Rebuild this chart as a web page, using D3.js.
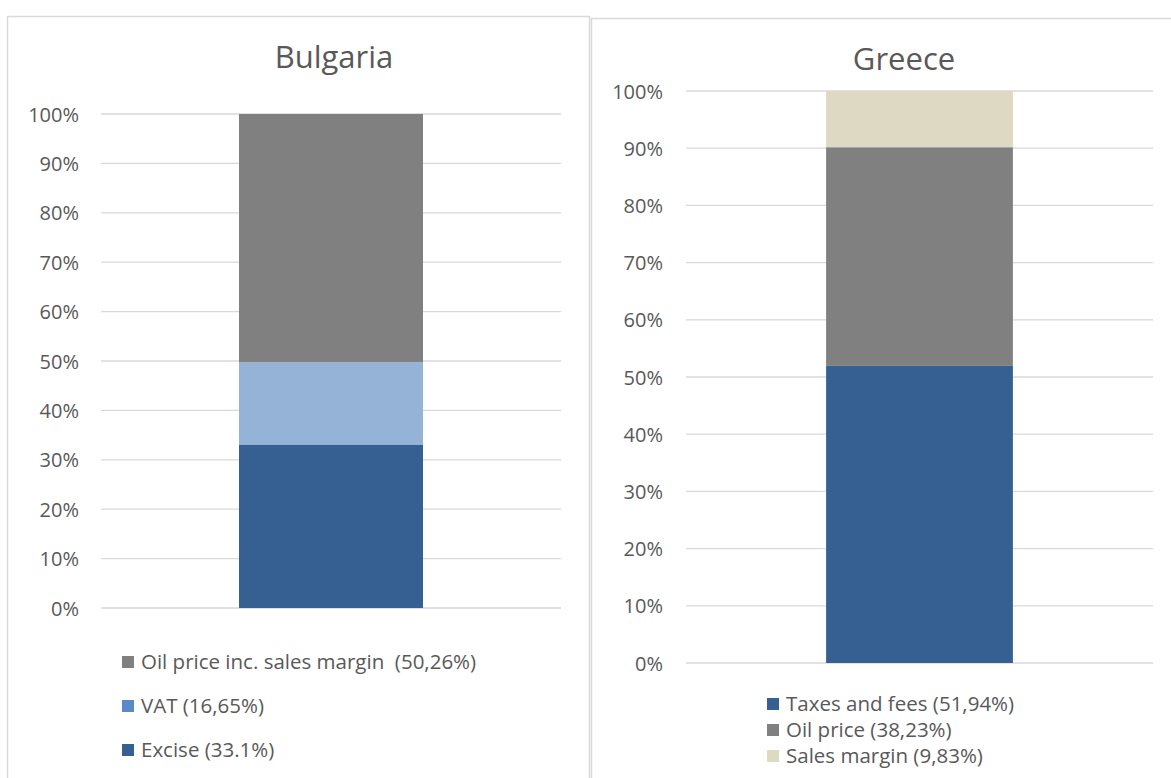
<!DOCTYPE html>
<html>
<head>
<meta charset="utf-8">
<script src="https://cdn.jsdelivr.net/npm/d3@7"></script>
<style>
  html, body { margin: 0; padding: 0; background: #fff; }
  svg { display: block; }
  text { font-family: "Open Sans", "Noto Sans", sans-serif; fill: #595959; }
</style>
</head>
<body>
<svg id="chart" width="1171" height="778"></svg>
<script>
// Bulgaria: fuel price breakdown (stack order bottom → top)
const bgCategories = ["Excise", "VAT", "Oil price inc. sales margin"];
const bgValues = [33.1, 16.65, 50.26];
const bgLegendLabels = ["Oil price inc. sales margin  (50,26%)", "VAT (16,65%)", "Excise (33.1%)"];

// Greece: fuel price breakdown (stack order bottom → top)
const grCategories = ["Taxes and fees", "Oil price", "Sales margin"];
const grValues = [51.94, 38.23, 9.83];
const grLegendLabels = ["Taxes and fees (51,94%)", "Oil price (38,23%)", "Sales margin (9,83%)"];

const yTicks = [0, 10, 20, 30, 40, 50, 60, 70, 80, 90, 100];

const svg = d3.select("#chart");

function drawPanel(cfg) {
  const g = svg.append("g");

  // chart frame
  g.append("rect")
    .attr("x", cfg.frame.x).attr("y", cfg.frame.y)
    .attr("width", cfg.frame.w).attr("height", cfg.frame.h)
    .attr("fill", "#fff").attr("stroke", "#d9d9d9").attr("stroke-width", 1.5);

  // title
  g.append("text")
    .attr("x", cfg.titleX).attr("y", cfg.titleY)
    .attr("text-anchor", "middle")
    .style("font-size", "31px")
    .text(cfg.title);

  const y = d3.scaleLinear().domain([0, 100]).range([cfg.plot.bottom, cfg.plot.top]);
  const x = d3.scaleBand().domain(["bar"]).range([cfg.plot.left, cfg.plot.right])
    .paddingInner(0).paddingOuter(cfg.barPad);

  // gridlines
  g.append("g").selectAll("line").data(yTicks).join("line")
    .attr("x1", cfg.plot.left).attr("x2", cfg.plot.right)
    .attr("y1", d => y(d)).attr("y2", d => y(d))
    .attr("stroke", "#d9d9d9").attr("stroke-width", 1.3);

  // y axis labels
  const axis = d3.axisLeft(y).tickValues(yTicks).tickSize(0).tickPadding(0)
    .tickFormat(d => d + "%");
  const ax = g.append("g")
    .attr("transform", `translate(${cfg.labelX},0)`)
    .call(axis);
  ax.select(".domain").remove();
  ax.selectAll("text")
    .style("font-size", "20px")
    .style("font-family", "\"Open Sans\", \"Noto Sans\", sans-serif")
    .attr("fill", "#595959")
    .attr("dy", "0.35em");

  // stacked bar
  const series = d3.stack().keys(cfg.categories)([
    Object.fromEntries(cfg.categories.map((c, i) => [c, cfg.values[i]]))
  ]);
  g.append("g").selectAll("rect").data(series).join("rect")
    .attr("x", x("bar"))
    .attr("width", x.bandwidth())
    .attr("y", d => y(Math.min(100, d[0][1])))
    .attr("height", d => y(d[0][0]) - y(Math.min(100, d[0][1])))
    .attr("fill", (d, i) => cfg.colors[i]);

  // legend
  const lg = g.append("g").selectAll("g").data(cfg.legendLabels).join("g")
    .attr("transform", (d, i) => `translate(${cfg.legend.x},${cfg.legend.y + i * cfg.legend.step})`);
  lg.append("rect")
    .attr("x", 0).attr("y", -6).attr("width", 12).attr("height", 12)
    .attr("fill", (d, i) => cfg.legendColors[i]);
  lg.append("text")
    .attr("x", 19).attr("dy", "0.35em")
    .style("font-size", "20.5px")
    .style("white-space", "pre")
    .attr("xml:space", "preserve")
    .text(d => d);
}

drawPanel({
  title: "Bulgaria",
  titleX: 334, titleY: 68,
  frame: { x: 7.5, y: 16.5, w: 582, h: 800 },
  plot: { left: 101, right: 561, top: 114, bottom: 608 },
  barPad: 0.75,
  labelX: 79,
  categories: bgCategories,
  values: bgValues,
  colors: ["#366092", "#95b3d7", "#808080"],
  legendLabels: bgLegendLabels,
  legendColors: ["#808080", "#5a8ac6", "#366092"],
  legend: { x: 122, y: 662, step: 44 }
});

drawPanel({
  title: "Greece",
  titleX: 904, titleY: 70,
  frame: { x: 591.5, y: 18.5, w: 600, h: 800 },
  plot: { left: 686, right: 1153, top: 91, bottom: 663 },
  barPad: 0.75,
  labelX: 663,
  categories: grCategories,
  values: grValues,
  colors: ["#366092", "#808080", "#ddd9c3"],
  legendLabels: grLegendLabels,
  legendColors: ["#366092", "#808080", "#ddd9c3"],
  legend: { x: 767, y: 704, step: 26 }
});
</script>
</body>
</html>
